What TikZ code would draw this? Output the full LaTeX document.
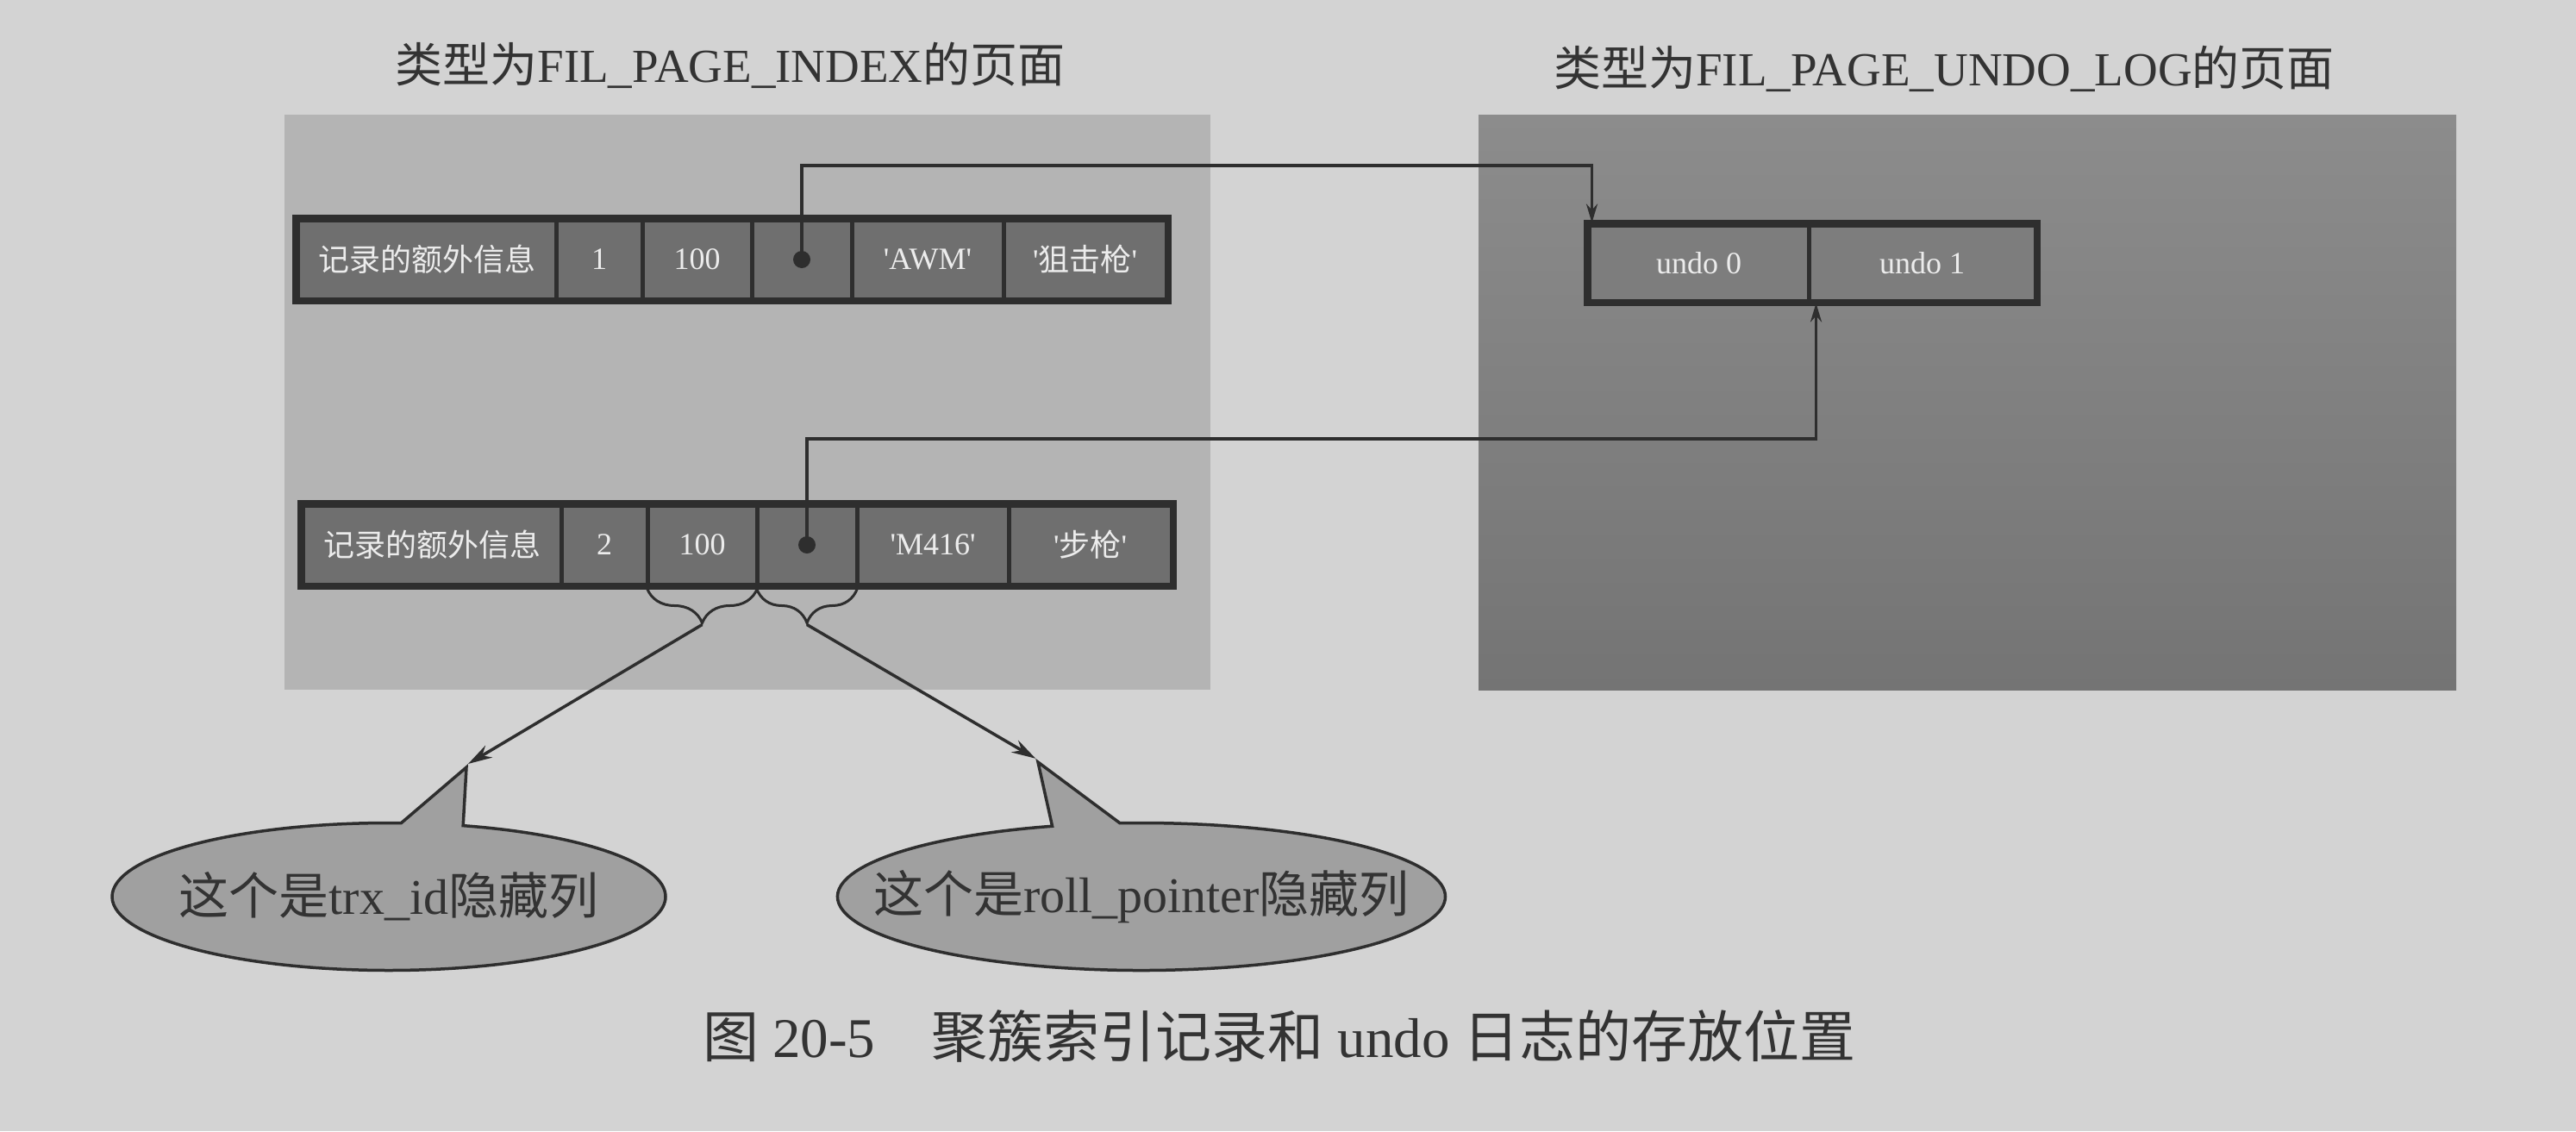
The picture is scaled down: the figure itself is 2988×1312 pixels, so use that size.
\documentclass[tikz,border=0pt]{standalone}
\usepackage{fontspec}
\setmainfont{Liberation Serif}
\newfontfamily\cjk{Noto Sans CJK SC}
\usetikzlibrary{shapes.callouts,decorations.pathreplacing,arrows.meta,calc,fit}
\definecolor{pagebg}{HTML}{D3D3D3}
\definecolor{panelLc}{HTML}{B4B4B4}
\definecolor{panelRtop}{HTML}{8C8C8C}
\definecolor{panelRbot}{HTML}{747474}
\definecolor{cellfill}{HTML}{6F6F6F}
\definecolor{cellborder}{HTML}{2E2E2E}
\definecolor{celltext}{HTML}{ECECEC}
\definecolor{ink}{HTML}{333333}
\definecolor{callfill}{HTML}{A0A0A0}
\newcommand{\sq}{\textquotesingle}
\tikzset{
  title/.style={text=ink, font=\fontsize{55}{60}\selectfont, inner sep=0pt},
  panel/.style={anchor=north west, inner sep=0pt},
  cell/.style={draw=cellborder, line width=5pt, fill=cellfill, inner sep=0pt,
    minimum height=92pt, text=celltext, font=\fontsize{36}{40}\selectfont},
  ucell/.style={cell, fill=cellfill!90!white, minimum height=88pt},
  recframe/.style={draw=cellborder, line width=7pt, inner sep=0pt},
  dotc/.style={circle, fill=cellborder, inner sep=0pt, minimum size=20pt},
  conn/.style={draw=cellborder, line width=3.5pt},
  smallhead/.style={-{Stealth[length=22pt,width=13pt]}},
  bighead/.style={-{Stealth[length=28pt,width=16pt]}},
  bracec/.style={draw=cellborder, line width=3pt,
    decorate, decoration={brace, mirror, amplitude=40pt}},
  bubble/.style={ellipse callout, draw=cellborder, line width=3.5pt, fill=callfill,
    inner sep=0pt, minimum height=171pt, callout pointer arc=13, text=ink,
    font=\fontsize{58}{62}\selectfont},
  caption/.style={text=ink, font=\fontsize{65}{70}\selectfont, inner sep=0pt}
}
\begin{document}
\begin{tikzpicture}[x=1pt,y=-1pt]
\useasboundingbox (0,0) rectangle (2988,1312);
\fill[pagebg] (0,0) rectangle (2988,1312);

% titles
\node[title] (tL) at (847,76) {{\cjk 类型为}FIL\_PAGE\_INDEX{\cjk 的页面}};
\node[title] (tR) at (2255,80) {{\cjk 类型为}FIL\_PAGE\_UNDO\_LOG{\cjk 的页面}};

% panels
\node[panel, fill=panelLc, minimum width=1074pt, minimum height=667pt] (pL) at (330,133) {};
\node[panel, top color=panelRtop, bottom color=panelRbot, minimum width=1134pt, minimum height=667pt] (pR) at (1715,133) {};

% record 1
\node[cell, minimum width=300pt] (r1c1) at (495,301) {{\cjk 记录的额外信息}};
\node[cell, minimum width=100pt] (r1c2) at (695,301) {1};
\node[cell, minimum width=127pt] (r1c3) at (808.5,301) {100};
\node[cell, minimum width=116pt] (r1c4) at (930,301) {};
\node[cell, minimum width=176pt] (r1c5) at (1076,301) {\sq AWM\sq};
\node[cell, minimum width=189pt] (r1c6) at (1258.5,301) {\sq{\cjk 狙击枪}\sq};
\node[recframe, fit=(r1c1)(r1c6)] (rec1) {};
\node[dotc] (d1) at (r1c4.center) {};

% record 2
\node[cell, minimum width=300pt] (r2c1) at (501,632) {{\cjk 记录的额外信息}};
\node[cell, minimum width=100pt] (r2c2) at (701,632) {2};
\node[cell, minimum width=127pt] (r2c3) at (814.5,632) {100};
\node[cell, minimum width=116pt] (r2c4) at (936,632) {};
\node[cell, minimum width=176pt] (r2c5) at (1082,632) {\sq M416\sq};
\node[cell, minimum width=189pt] (r2c6) at (1264.5,632) {\sq{\cjk 步枪}\sq};
\node[recframe, fit=(r2c1)(r2c6)] (rec2) {};
\node[dotc] (d2) at (r2c4.center) {};

% undo records
\node[ucell, minimum width=255pt] (u0) at (1970.5,305) {undo 0};
\node[ucell, minimum width=263pt] (u1) at (2229.5,305) {undo 1};
\node[recframe, fit=(u0)(u1)] (urec) {};

% roll pointers
\coordinate (t1) at ($(u0.north west)+(6,0)$);
\coordinate (t2) at ($(u0.south east)+(6,0)$);
\draw[conn, smallhead] (d1.center) -- ++(0,-109) -| (t1);
\draw[conn, smallhead] (d2.center) -- ++(0,-123) -| (t2);

% braces
\draw[bracec] ($(r2c3.south west)+(2,2)$) -- ($(r2c3.south east)+(-2,2)$);
\draw[bracec] ($(r2c4.south west)+(2,2)$) -- ($(r2c4.south east)+(-2,2)$);
\coordinate (b1) at ($(r2c3.south)+(0,44)$);
\coordinate (b2) at ($(r2c4.south)+(0,44)$);

% callouts
\coordinate (p1) at (541,890);
\coordinate (p2) at (1204,884);
\node[bubble, minimum width=642pt, callout absolute pointer={(p1)}] (c1) at (451,1040)
  {\makebox[0pt]{{\cjk 这个是}trx\_id{\cjk 隐藏列}}};
\node[bubble, minimum width=705pt, callout absolute pointer={(p2)}] (c2) at (1324,1040)
  {\makebox[0pt]{{\cjk 这个是}roll\_pointer{\cjk 隐藏列}}};
\draw[conn, bighead] (b1) -- (c1.pointer);
\draw[conn, bighead] (b2) -- (c2.pointer);

% caption
\node[caption] (cap) at (1484,1202) {{\cjk 图} 20-5{\cjk 　聚簇索引记录和} undo {\cjk 日志的存放位置}};
\end{tikzpicture}
\end{document}
